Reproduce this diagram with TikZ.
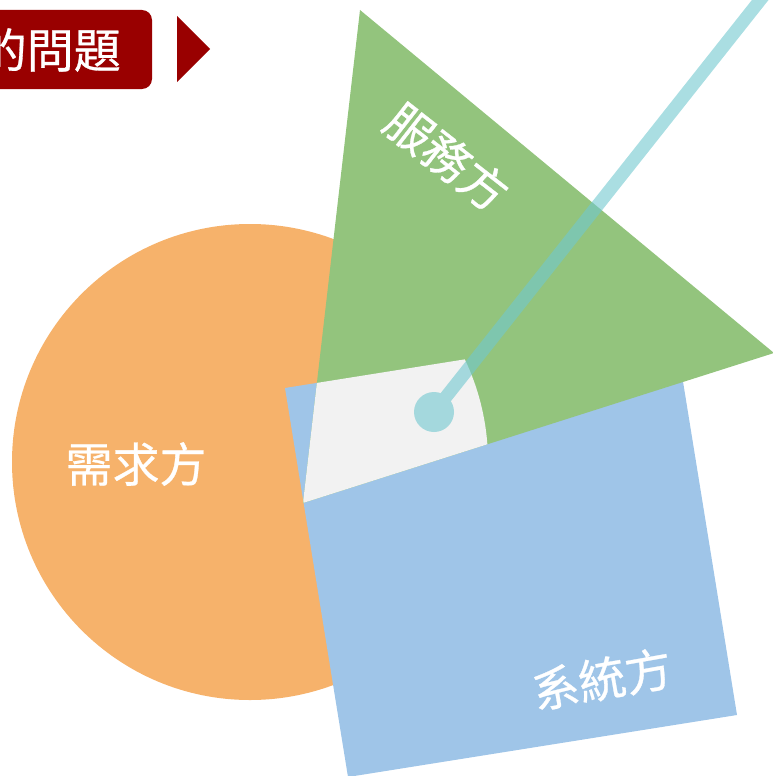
\documentclass[tikz,border=0pt]{standalone}
\usepackage{fontspec}
\setmainfont{Noto Sans CJK TC}
\newfontfamily\partfont{Noto Sans CJK TC}[FakeBold=0.6]
\usetikzlibrary{positioning}

\definecolor{needorange}{RGB}{246,178,107}
\definecolor{servegreen}{RGB}{147,196,125}
\definecolor{sysblue}{RGB}{159,197,232}
\definecolor{coregray}{RGB}{242,242,242}
\definecolor{pointteal}{RGB}{113,200,207}
\definecolor{titlered}{RGB}{153,0,0}

\tikzset{
    parttext/.style={text=white,inner sep=0pt,font=\partfont\fontsize{47}{52}\selectfont},
}

\begin{document}
\begin{tikzpicture}[x=1pt,y=-1pt]

            \clip (0,0) rectangle (773,776);

            %\draw [help lines,step=50] (0,0) grid (773,776);

            \path   (250,462) coordinate (c)
                    (360,10) coordinate (t1)
                    (774,353) coordinate (t2)
                    (303,503) coordinate (t3)
                    (285,388) coordinate (s1)
                    (674,326) coordinate (s2)
                    (737,715) coordinate (s3)
                    (348,777) coordinate (s4)
                    (434,412) coordinate (p)
                    (780,-25) coordinate (q);

            % three parties
            \fill[needorange] (c) circle (238);
            \fill[sysblue] (s1) -- (s2) -- (s3) -- (s4) -- cycle;
            \fill[servegreen] (t1) -- (t2) -- (t3) -- cycle;

            % common part
            \begin{scope}
                \clip (c) circle (238);
                \clip (t1) -- (t2) -- (t3) -- cycle;
                \fill[coregray] (s1) -- (s2) -- (s3) -- (s4) -- cycle;
            \end{scope}

            \begin{scope}[transparency group,opacity=0.6]
                \draw[pointteal,line width=13] (p) -- (q);
                \fill[pointteal] (p) circle (20);
            \end{scope}

            \path   (136,464) node (need) [parttext] {需求方}
                    (447,157) node (serve) [parttext,rotate=-38] {服務方}
                    (602,679) node (sys) [parttext,rotate=10] {系統方};

            % title tab
            \fill[titlered,rounded corners=10] (-30,10) rectangle (152,89);
            \path   (121,50) node (title) [parttext,anchor=east] {的問題};
            \fill[titlered] (177,16) -- (210,49) -- (177,82) -- cycle;

        \end{tikzpicture}
\end{document}
